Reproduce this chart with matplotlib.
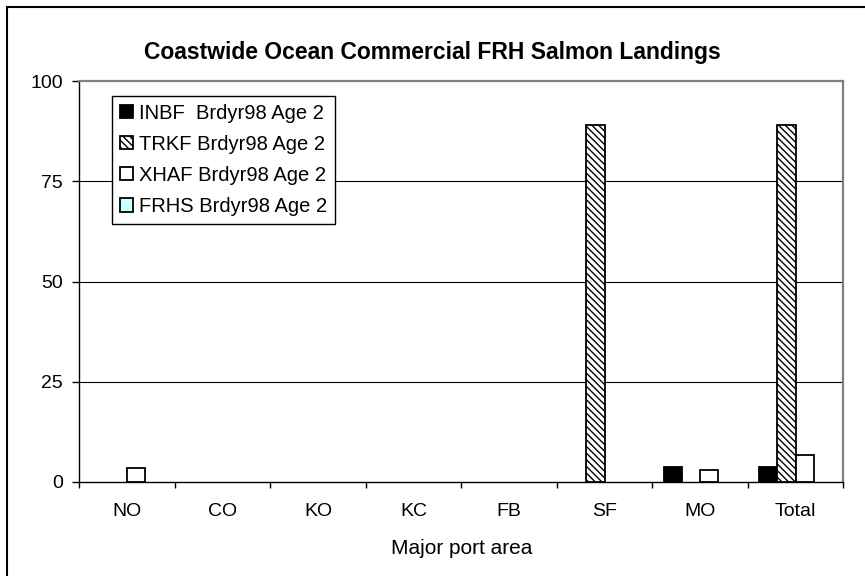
import matplotlib
matplotlib.use("Agg")
import matplotlib.pyplot as plt
from matplotlib.patches import Rectangle, Patch
import numpy as np

plt.rcParams['font.family'] = ['Liberation Sans', 'DejaVu Sans']
plt.rcParams['hatch.linewidth'] = 1.0

categories = ["NO", "CO", "KO", "KC", "FB", "SF", "MO", "Total"]
series_names = ["INBF  Brdyr98 Age 2", "TRKF Brdyr98 Age 2", "XHAF Brdyr98 Age 2", "FRHS Brdyr98 Age 2"]
inbf = [0, 0, 0, 0, 0, 0, 3.8, 3.8]
trkf = [0, 0, 0, 0, 0, 89, 0, 89]
xhaf = [3.6, 0, 0, 0, 0, 0, 3.1, 6.7]
frhs = [0, 0, 0, 0, 0, 0, 0, 0]
yticks = [0, 25, 50, 75, 100]

W, H = 865, 576
fig = plt.figure(figsize=(W / 100, H / 100), dpi=100)
ax = fig.add_axes([79.3 / W, 1 - 482 / H, (843.3 - 79.3) / W, (482 - 81) / H])

x = np.arange(len(categories))
w = 0.19
styles = [
    dict(facecolor="black", edgecolor="black", hatch=None),
    dict(facecolor="white", edgecolor="black", hatch="\\\\\\\\\\"),
    dict(facecolor="white", edgecolor="black", hatch=None),
    dict(facecolor="#CCFFFF", edgecolor="black", hatch=None),
]
data = [inbf, trkf, xhaf, frhs]
offsets = [-1.5, -0.5, 0.5, 1.5]
for vals, st, off in zip(data, styles, offsets):
    v = np.asarray(vals, dtype=float)
    keep = v > 0
    if keep.any():
        ax.bar(x[keep] + off * w, v[keep], width=w, linewidth=1.3, zorder=3, **st)

ax.set_xlim(-0.5, len(categories) - 0.5)
ax.set_ylim(0, 100)
ax.set_yticks(yticks)
ax.set_yticklabels([str(t) for t in yticks], fontsize=14)
ax.set_xticks(x)
ax.set_xticklabels(categories, fontsize=14)
ax.tick_params(axis='x', which='major', length=0, pad=15)
ax.set_xticks(np.arange(len(categories) + 1) - 0.5, minor=True)
ax.tick_params(axis='x', which='minor', length=4.3, width=1, direction='out', color='black')
ax.tick_params(axis='y', which='major', length=5, width=1, direction='out', pad=7)

for t in [25, 50, 75]:
    ax.axhline(t, color="black", linewidth=0.8, zorder=1)

ax.spines['top'].set_color('#808080')
ax.spines['right'].set_color('#808080')
ax.spines['top'].set_linewidth(1.6)
ax.spines['right'].set_linewidth(1.6)
ax.spines['left'].set_color('black')
ax.spines['bottom'].set_color('black')
ax.spines['left'].set_linewidth(1.0)
ax.spines['bottom'].set_linewidth(1.0)
for s in ax.spines.values():
    s.set_zorder(4)

fig.text(0.5 * (79.3 + 843.3) / W, 1 - 549 / H, "Major port area", ha="center", va="center", fontsize=15)
fig.text(0.5, 1 - 52 / H, "Coastwide Ocean Commercial FRH Salmon Landings",
         ha="center", va="center", fontsize=16.5, fontweight="bold")

handles = [Patch(linewidth=1.3, **st) for st in styles]
leg = ax.legend(handles, series_names, loc="upper left",
                bbox_to_anchor=((112 - 79.3) / (843.3 - 79.3), (482 - 96) / 401),
                fontsize=14.5, frameon=True, fancybox=False, framealpha=1,
                edgecolor="black", handlelength=0.65, handleheight=0.65,
                handletextpad=0.3, labelspacing=0.6, borderpad=0.38,
                borderaxespad=0)
leg.get_frame().set_linewidth(1.0)
leg.set_zorder(5)

fig.patches.append(Rectangle((7 / W, -0.5), 2, 1 - 7 / H + 0.5, transform=fig.transFigure,
                             fill=False, edgecolor="black", linewidth=1.5))

fig.savefig("out.png", dpi=100)
